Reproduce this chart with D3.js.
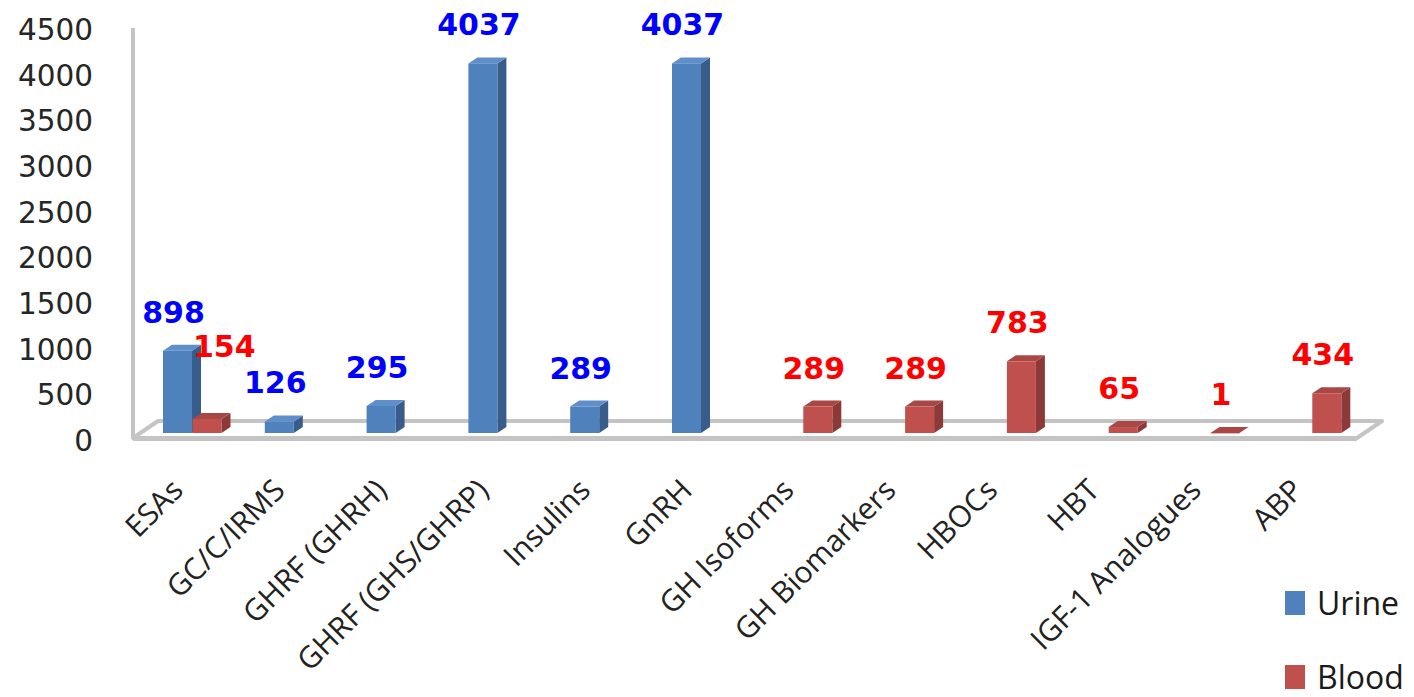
<!DOCTYPE html>
<html>
<head>
<meta charset="utf-8">
<script src="https://cdn.jsdelivr.net/npm/d3@7"></script>
<style>
  html, body { margin: 0; padding: 0; background: #fff; }
  svg { display: block; }
</style>
</head>
<body>
<svg id="chart" width="1414" height="697"></svg>
<script>
const categories = ["ESAs", "GC/C/IRMS", "GHRF (GHRH)", "GHRF (GHS/GHRP)", "Insulins", "GnRH",
  "GH Isoforms", "GH Biomarkers", "HBOCs", "HBT", "IGF-1 Analogues", "ABP"];
const seriesNames = ["Urine", "Blood"];
const urineValues = [898, 126, 295, 4037, 289, 4037, 0, 0, 0, 0, 0, 0];
const bloodValues = [154, 0, 0, 0, 0, 0, 289, 289, 783, 65, 1, 434];
const yTicks = [0, 500, 1000, 1500, 2000, 2500, 3000, 3500, 4000, 4500];

const svg = d3.select("#chart");

const colors = {
  Urine: { front: "#4F81BD", side: "#385D8A", top: "#5E8FCB", label: "#0000FF" },
  Blood: { front: "#C0504D", side: "#8C3A38", top: "#A84744", label: "#FF0000" }
};

// scales
const x = d3.scaleBand().domain(categories).range([133, 1354.6]).padding(0);
const xs = d3.scaleBand().domain(seriesNames).range([30, 89]).padding(0);
const y = d3.scaleLinear().domain([0, 4500]).range([433, 21]);
const yAxisScale = d3.scaleLinear().domain([0, 4500]).range([441, 30]);

const depth = { dx: 9, dy: -6 };
const floorD = { dx: 25, dy: -17 };

// floor + wall lines
const fl = 133, fr = 1357, fy = 438;
const floorG = svg.append("g");
floorG.append("path")
  .attr("d", `M${fl},${fy} L${fr},${fy} L${fr + floorD.dx},${fy + floorD.dy} L${fl + floorD.dx},${fy + floorD.dy} Z`)
  .attr("fill", "#fff")
  .attr("stroke", "#C4C4C4")
  .attr("stroke-width", 4)
  .attr("stroke-linejoin", "round");
floorG.append("line")
  .attr("x1", fl).attr("x2", fr).attr("y1", fy + 2.5).attr("y2", fy + 2.5)
  .attr("stroke", "#9A9A9A").attr("stroke-width", 1.2).attr("opacity", 0.6);
floorG.append("line")
  .attr("x1", fl).attr("x2", fl).attr("y1", 28).attr("y2", fy)
  .attr("stroke", "#C4C4C4").attr("stroke-width", 4);

// y axis labels
const yAxis = d3.axisLeft(yAxisScale).tickValues(yTicks).tickSize(0).tickPadding(0).tickFormat(d3.format("d"));
const yg = svg.append("g").attr("transform", "translate(93,0)").call(yAxis);
yg.select(".domain").remove();
yg.selectAll("text")
  .attr("font-family", "DejaVu Sans, Verdana, sans-serif")
  .attr("font-size", 29.5)
  .attr("fill", "#262626");

// bars
const data = [];
categories.forEach((c, i) => {
  data.push({ cat: c, series: "Urine", value: urineValues[i] });
  data.push({ cat: c, series: "Blood", value: bloodValues[i] });
});
const barW = 29;
const bars = data.filter(d => d.value > 0).map(d => {
  const x0 = x(d.cat) + xs(d.series);
  return { ...d, x0, x1: x0 + barW, yt: y(d.value), yb: y(0) };
});

const barG = svg.append("g");
const bg = barG.selectAll("g.bar").data(bars).join("g").attr("class", "bar");
bg.append("path") // side
  .attr("d", d => `M${d.x1},${d.yt} L${d.x1 + depth.dx},${d.yt + depth.dy} L${d.x1 + depth.dx},${d.yb + depth.dy} L${d.x1},${d.yb} Z`)
  .attr("fill", d => colors[d.series].side);
bg.append("path") // top
  .attr("d", d => `M${d.x0},${d.yt} L${d.x1},${d.yt} L${d.x1 + depth.dx},${d.yt + depth.dy} L${d.x0 + depth.dx},${d.yt + depth.dy} Z`)
  .attr("fill", d => colors[d.series].top);
bg.append("rect") // front
  .attr("x", d => d.x0).attr("y", d => d.yt)
  .attr("width", barW).attr("height", d => Math.max(0.5, d.yb - d.yt))
  .attr("fill", d => colors[d.series].front);

// data labels
const labelG = svg.append("g");
bars.forEach(d => {
  let lx = (d.x0 + d.x1) / 2 - 4;
  let ly = d.yt + depth.dy - 22;
  let anchor = "middle";
  // avoid collision with a taller sibling bar in the same category
  const sib = bars.find(b => b.cat === d.cat && b.series !== d.series && b.value > d.value);
  if (sib && d.series === "Blood") {
    lx = sib.x1 + 1;
    ly = sib.yt + 6;
    anchor = "start";
  }
  labelG.append("text")
    .attr("x", lx).attr("y", ly)
    .attr("text-anchor", anchor)
    .attr("font-family", "DejaVu Sans, Verdana, sans-serif")
    .attr("font-weight", "bold")
    .attr("font-size", 30)
    .attr("fill", colors[d.series].label)
    .text(d3.format("d")(d.value));
});

// x axis labels
const xg = svg.append("g");
categories.forEach(c => {
  const cx = x(c) + x.bandwidth() / 2 + 1;
  xg.append("text")
    .attr("transform", `translate(${cx},${492}) rotate(-45)`)
    .attr("text-anchor", "end")
    .attr("font-family", "Open Sans, sans-serif")
    .attr("font-size", 30)
    .attr("fill", "#222")
    .text(c);
});

// legend
const lg = svg.append("g");
const legendY = { Urine: 591, Blood: 665 };
seriesNames.forEach(s => {
  lg.append("rect").attr("x", 1285).attr("y", legendY[s]).attr("width", 20).attr("height", 24)
    .attr("fill", colors[s].front);
  lg.append("text").attr("x", 1317).attr("y", legendY[s] + 24)
    .attr("font-family", "Open Sans, sans-serif")
    .attr("font-size", 32)
    .attr("fill", "#1a1a1a")
    .text(s);
});
</script>
</body>
</html>
